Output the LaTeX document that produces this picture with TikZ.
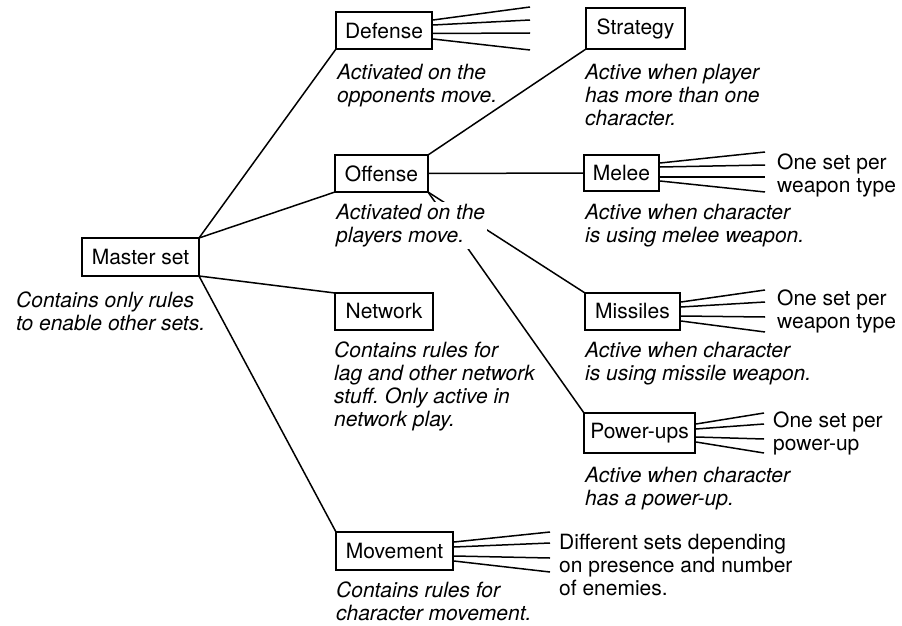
\documentclass[tikz,border=0pt]{standalone}
\usepackage{fontspec}
\setmainfont{TeX Gyre Heros}
\usetikzlibrary{calc}
\frenchspacing
\tikzset{
  setbox/.style={draw, line width=1.5pt, fill=white, inner sep=0pt, outer sep=0pt,
    font=\fontsize{21}{23}\selectfont},
  note/.style={anchor=base west, align=left, inner sep=2pt,
    font=\fontsize{21}{23}\selectfont\itshape},
  masknote/.style={note, fill=white},
  fantext/.style={anchor=base west, align=left, inner sep=1pt,
    font=\fontsize{21}{23}\selectfont},
  conn/.style={line width=1.5pt},
}
\begin{document}
\begin{tikzpicture}[x=1pt,y=-1pt]
\useasboundingbox (0,0) rectangle (902,626);
% boxes
\node[setbox, minimum width=117pt, minimum height=38pt] (master) at (140.5,257) {Master set};
\node[setbox, minimum width=96pt, minimum height=37pt] (def) at (384,30.5) {Defense};
\node[setbox, minimum width=93pt, minimum height=37pt] (off) at (381.5,173.5) {Offense};
\node[setbox, minimum width=99pt, minimum height=41pt] (strat) at (635.5,28.5) {Strategy};
\node[setbox, minimum width=75pt, minimum height=36pt] (melee) at (621.5,173) {Melee};
\node[setbox, minimum width=98pt, minimum height=37pt] (net) at (384,311.5) {Network};
\node[setbox, minimum width=95pt, minimum height=37pt] (miss) at (632.5,311.5) {Missiles};
\node[setbox, minimum width=111pt, minimum height=40pt] (pow) at (639.5,433) {Power-ups};
\node[setbox, minimum width=117pt, minimum height=38pt] (move) at (394.5,551) {Movement};
% connectors
\draw[conn] (master.north east) -- (def.south west);
\draw[conn] (master.north east) -- (off.south west);
\draw[conn] (master.south east) -- (net.north west);
\draw[conn] (master.south east) -- (move.north west);
\draw[conn] (off.north east) -- (strat.south west);
\draw[conn] (off.east) -- (melee.west);
\draw[conn] (off.south east) -- (miss.north west);
\draw[conn] (off.south east) -- (pow.north west);
% fans
\coordinate (d1) at (530,7);  \coordinate (d2) at (530,20);
\coordinate (d3) at (530,33); \coordinate (d4) at (530,50);
\draw[conn] ($(def.east)+(1,-10.5)$) -- (d1);
\draw[conn] ($(def.east)+(1,-5.5)$) -- (d2);
\draw[conn] ($(def.east)+(1,3)$) -- (d3);
\draw[conn] ($(def.east)+(1,8.5)$) -- (d4);
\coordinate (m1) at (765,152); \coordinate (m2) at (765,165);
\coordinate (m3) at (765,177); \coordinate (m4) at (765,192);
\draw[conn] ($(melee.east)+(1,-10)$) -- (m1);
\draw[conn] ($(melee.east)+(1,-6)$) -- (m2);
\draw[conn] ($(melee.east)+(1,4)$) -- (m3);
\draw[conn] ($(melee.east)+(1,8)$) -- (m4);
\coordinate (s1) at (765,290); \coordinate (s2) at (765,302);
\coordinate (s3) at (765,317); \coordinate (s4) at (765,332);
\draw[conn] ($(miss.east)+(1,-9.5)$) -- (s1);
\draw[conn] ($(miss.east)+(1,-4.5)$) -- (s2);
\draw[conn] ($(miss.east)+(1,4.5)$) -- (s3);
\draw[conn] ($(miss.east)+(1,9.5)$) -- (s4);
\coordinate (p1) at (764,413); \coordinate (p2) at (764,424);
\coordinate (p3) at (764,439); \coordinate (p4) at (764,453);
\draw[conn] ($(pow.east)+(1,-9)$) -- (p1);
\draw[conn] ($(pow.east)+(1,-4)$) -- (p2);
\draw[conn] ($(pow.east)+(1,4)$) -- (p3);
\draw[conn] ($(pow.east)+(1,9)$) -- (p4);
\coordinate (v1) at (550,532); \coordinate (v2) at (550,543);
\coordinate (v3) at (550,558); \coordinate (v4) at (550,572);
\draw[conn] ($(move.east)+(1,-9)$) -- (v1);
\draw[conn] ($(move.east)+(1,-4)$) -- (v2);
\draw[conn] ($(move.east)+(1,5)$) -- (v3);
\draw[conn] ($(move.east)+(1,10)$) -- (v4);
% notes (anchored at the baseline of their last line)
\node[note] (tmaster) at (14,330) {Contains only rules\\to enable other sets.};
\node[note] (tdef) at (335,102) {Activated on the\\opponents move.};
\node[masknote] (toff) at (334,242) {Activated on the\\players move.};
\node[note] (tstrat) at (583,125) {Active when player\\has more than one\\character.};
\node[note] (tmelee) at (583,242) {Active when character\\is using melee weapon.};
\node[note] (tnet) at (332,426) {Contains rules for\\lag and other network\\stuff. Only active in\\network play.};
\node[note] (tmiss) at (583,380) {Active when character\\is using missile weapon.};
\node[note] (tpow) at (583,505) {Active when character\\has a power-up.};
\node[note] (tmove) at (334,620) {Contains rules for\\character movement.};
% fan texts
\node[fantext] (fmelee) at (776,192) {One set per\\weapon type};
\node[fantext] (fmiss) at (776,328) {One set per\\weapon type};
\node[fantext] (fpow) at (772,450) {One set per\\power-up};
\node[fantext] (fmove) at (558,595) {Different sets depending\\on presence and number\\of enemies.};
\end{tikzpicture}
\end{document}
